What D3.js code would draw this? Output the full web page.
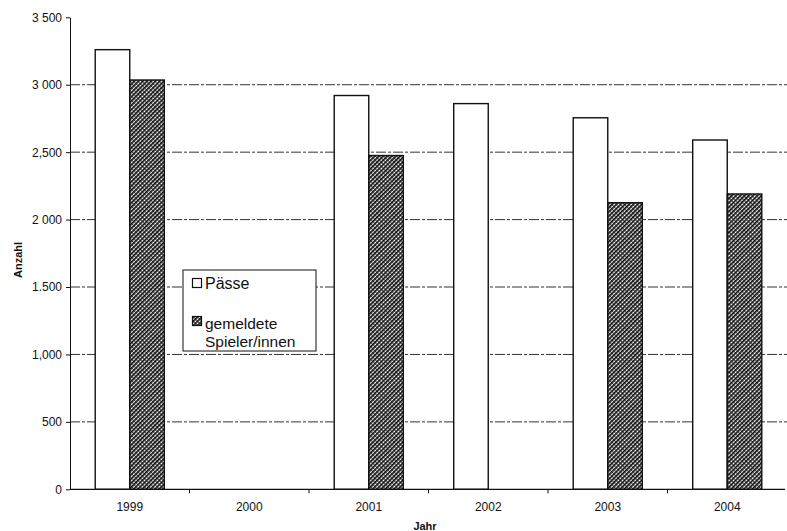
<!DOCTYPE html>
<html>
<head>
<meta charset="utf-8">
<script src="https://cdn.jsdelivr.net/npm/d3@7.9.0/dist/d3.min.js"></script>
<style>
  body { margin: 0; background: #fff; }
  text { font-family: "Liberation Sans", Arial, sans-serif; fill: #111; }
</style>
</head>
<body>
<svg id="chart" width="787" height="531"></svg>
<script>
// data
const years = ['1999', '2000', '2001', '2002', '2003', '2004'];
const paesse = [3260, null, 2920, 2860, 2755, 2590];
const spieler = [3035, null, 2475, null, 2125, 2190];
const yTicks = [0, 500, 1000, 1500, 2000, 2500, 3000, 3500];
const yTickLabels = ['0', '500', '1,000', '1.500', '2 000', '2,500', '3 000', '3 500'];
const seriesNames = ['Pässe', 'gemeldete Spieler/innen'];

const svg = d3.select('#chart');

// pattern for the second series
const defs = svg.append('defs');
const pat = defs.append('pattern')
  .attr('id', 'hatch')
  .attr('patternUnits', 'userSpaceOnUse')
  .attr('width', 3).attr('height', 3)
  .attr('patternTransform', 'rotate(45)');
pat.append('rect').attr('width', 3).attr('height', 3).attr('fill', '#fff');
pat.append('rect').attr('width', 1.7).attr('height', 3).attr('fill', '#111');
pat.append('rect').attr('width', 3).attr('height', 0.7).attr('fill', '#111');

let x = d3.scaleBand().domain(years).range([70, 787]).padding(0);
let inner = d3.scaleBand().domain(['p', 's']).range([0, x.bandwidth()])
  .paddingInner(0).paddingOuter(0.73);
let y = d3.scaleLinear().domain([0, 3500]).range([489.3, 17.3]);

// grid lines (no line at the top)
svg.append('g')
  .selectAll('line')
  .data(yTicks.filter(d => d > 0 && d < 3500))
  .join('line')
  .attr('x1', 70).attr('x2', 787)
  .attr('y1', d => y(d)).attr('y2', d => y(d))
  .attr('stroke', '#333')
  .attr('stroke-width', 1)
  .attr('stroke-dasharray', '10,2,3,2');

// bars
let rows = years.map((yr, i) => ({ year: yr, p: paesse[i], s: spieler[i] }));
let groups = svg.append('g').selectAll('g')
  .data(rows)
  .join('g')
  .attr('transform', d => `translate(${x(d.year)},0)`);

groups.selectAll('rect')
  .data(d => [{ key: 'p', v: d.p }, { key: 's', v: d.s }].filter(e => e.v != null))
  .join('rect')
  .attr('x', d => inner(d.key))
  .attr('width', inner.bandwidth())
  .attr('y', d => y(d.v))
  .attr('height', d => y(0) - y(d.v))
  .attr('fill', d => d.key === 'p' ? '#fff' : 'url(#hatch)')
  .attr('stroke', '#111')
  .attr('stroke-width', 1.4);

// y axis
let yAxis = d3.axisLeft(y)
  .tickValues(yTicks)
  .tickFormat((d, i) => yTickLabels[i])
  .tickSize(4)
  .tickPadding(4)
  .tickSizeOuter(0);
let gy = svg.append('g').attr('transform', 'translate(70,0)').call(yAxis);
gy.selectAll('text').style('font-size', '12px');
gy.selectAll('path, line').attr('stroke', '#111');

// x axis: ticks between the categories
let gx = svg.append('g').attr('transform', `translate(0,${y(0)})`);
gx.append('line').attr('x1', 70).attr('x2', 785).attr('stroke', '#111').attr('stroke-width', 1.2);
gx.selectAll('.tk')
  .data(years.slice(1))
  .join('line')
  .attr('class', 'tk')
  .attr('x1', d => x(d)).attr('x2', d => x(d))
  .attr('y1', 0).attr('y2', 4)
  .attr('stroke', '#111');
gx.selectAll('text')
  .data(years)
  .join('text')
  .attr('x', d => x(d) + x.bandwidth() / 2)
  .attr('y', 22)
  .attr('text-anchor', 'middle')
  .style('font-size', '12px')
  .text(d => d);

// axis titles
svg.append('text')
  .attr('x', 425).attr('y', 530)
  .attr('text-anchor', 'middle')
  .style('font-size', '11px').style('font-weight', 'bold')
  .text('Jahr');
svg.append('text')
  .attr('transform', 'translate(22,260) rotate(-90)')
  .attr('text-anchor', 'middle')
  .style('font-size', '11px').style('font-weight', 'bold')
  .text('Anzahl');

// legend
let legend = svg.append('g');
legend.append('rect')
  .attr('x', 183).attr('y', 270).attr('width', 133).attr('height', 81)
  .attr('fill', '#fff').attr('stroke', '#111').attr('stroke-width', 1);
legend.append('rect')
  .attr('x', 192.5).attr('y', 278.5).attr('width', 9).attr('height', 9)
  .attr('fill', '#fff').attr('stroke', '#111').attr('stroke-width', 1.2);
legend.append('rect')
  .attr('x', 192.5).attr('y', 316.5).attr('width', 9).attr('height', 9)
  .attr('fill', 'url(#hatch)').attr('stroke', '#111').attr('stroke-width', 1.2);
legend.append('text')
  .attr('x', 205).attr('y', 289)
  .style('font-size', '16px')
  .text(seriesNames[0]);
let t2 = legend.append('text')
  .attr('x', 205).attr('y', 329)
  .style('font-size', '15.5px');
t2.append('tspan').attr('x', 205).text(seriesNames[1].split(' ')[0]);
t2.append('tspan').attr('x', 205).attr('dy', 18).text(seriesNames[1].split(' ')[1]);
</script>
</body>
</html>
